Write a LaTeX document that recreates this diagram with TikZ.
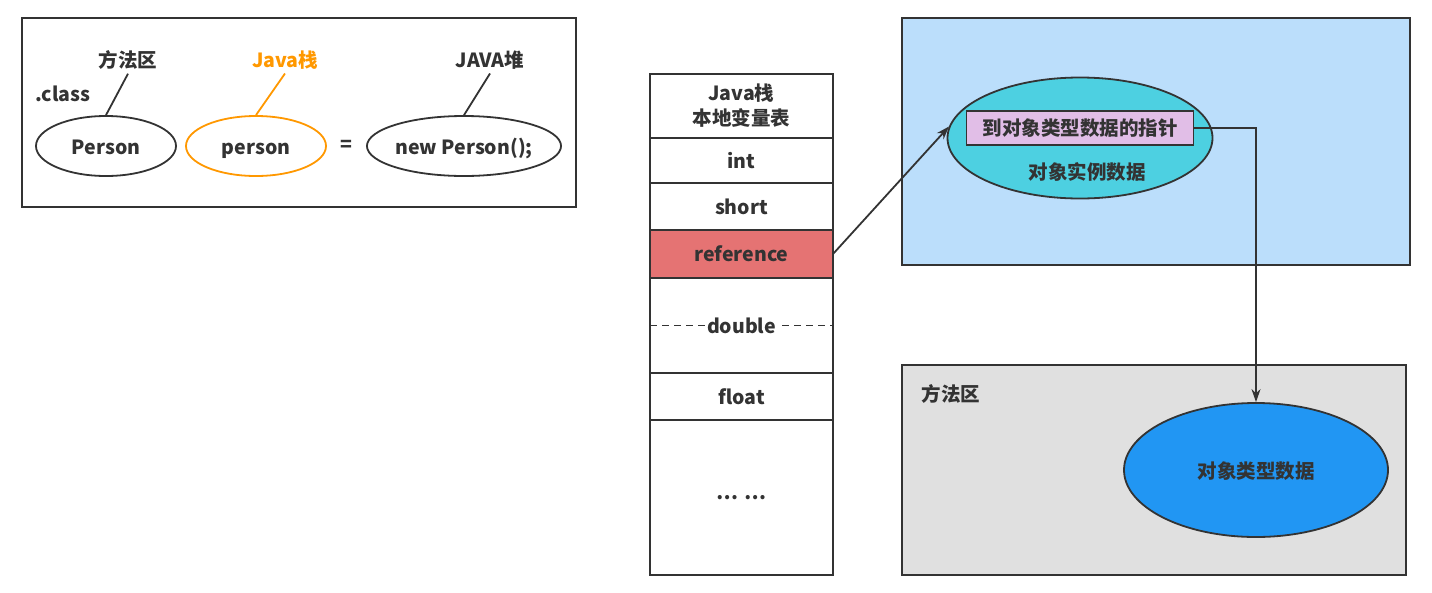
\documentclass[tikz,border=0pt]{standalone}
\usepackage{fontspec}
\setmainfont{Noto Sans CJK SC}
\usepackage{tikz}
\usetikzlibrary{shapes.geometric,arrows.meta,positioning}
\definecolor{ink}{HTML}{333333}
\definecolor{stackorange}{HTML}{FF9800}
\definecolor{refred}{HTML}{E57373}
\definecolor{heapblue}{HTML}{BBDEFB}
\definecolor{instteal}{HTML}{4DD0E1}
\definecolor{ptrpink}{HTML}{E1BEE7}
\definecolor{methgray}{HTML}{E0E0E0}
\definecolor{clsblue}{HTML}{2196F3}

\begin{document}
\begin{tikzpicture}[
  x=1pt, y=-1pt, line width=1.8pt, color=ink,
  lbl/.style={font=\fontsize{19.5}{25}\selectfont\bfseries, text=ink},
  oval/.style={ellipse, draw, minimum width=#1, minimum height=60pt,
               inner sep=0pt, text height=20pt, text depth=4pt, lbl},
  cell/.style={rectangle, draw, minimum width=183pt, minimum height=#1,
               inner sep=0pt, outer sep=0pt, lbl, align=center},
  region/.style={rectangle, draw, fill=#1, outer sep=0pt, anchor=north west},
  link/.style={-{Stealth[length=13pt,width=9pt]}, ink}
]
  \useasboundingbox (0,0) rectangle (1432,592);

  % Left box — Person person = new Person();
  \node[region=white, minimum width=554pt, minimum height=189pt] (code) at (22,18) {};
  \node[oval=140pt] (pcls) at (106,146) {Person};
  \node[oval=140pt, draw=stackorange] (pvar) at (256,146) {person};
  \node[lbl] (eq) at (346,146) {=};
  \node[oval=193pt] (pobj) at (464,146) {new Person();};
  \node[lbl] (lmeth) at (128,60) {方法区};
  \node[lbl, text=stackorange] (lstack) at (285,60) {Java栈};
  \node[lbl] (lheap) at (490,60) {JAVA堆};
  \node[lbl] (ext) at (63,94) {.class};
  \draw (lmeth.south) -- (pcls.north);
  \draw[stackorange] (lstack.south) -- (pvar.north);
  \draw (lheap.south) -- (pobj.north);

  % Stack frame — local variable table
  \node[cell=64pt, anchor=north] (hdr) at (741.5,74) {Java栈\\本地变量表};
  \node[cell=45pt, below=0pt of hdr] (cint) {int};
  \node[cell=47pt, below=0pt of cint] (cshort) {short};
  \node[cell=48pt, fill=refred, below=0pt of cshort] (cref) {reference};
  \node[cell=95pt, below=0pt of cref] (cdbl) {};
  \draw[dash pattern=on 7pt off 5pt] (cdbl.west) -- (cdbl.east);
  \node[lbl, fill=white, inner sep=1pt] (tdbl) at (cdbl) {double};
  \node[cell=47pt, below=0pt of cdbl] (cflt) {float};
  \node[cell=155pt, below=0pt of cflt] (cmore) {⋯\hspace{6pt}⋯};

  % Heap — object instance
  \node[region=heapblue, minimum width=508pt, minimum height=247pt] (heap) at (902,18) {};
  \node[oval=265pt, minimum height=121pt, fill=instteal] (inst) at (1080,138) {};
  \node[lbl, draw, fill=ptrpink, minimum width=227pt, minimum height=34pt,
        inner sep=0pt] (ptr) at (1080,128) {到对象类型数据的指针};
  \node[lbl] (tinst) at (1087,172) {对象实例数据};

  % Method area — class data
  \node[region=methgray, minimum width=504pt, minimum height=210pt] (meth) at (902,365) {};
  \node[lbl] (tmeth) at (951,394) {方法区};
  \node[oval=264pt, minimum height=134pt, fill=clsblue] (cls) at (1256,470) {对象类型数据};

  \draw[link] (cref.east) -- (inst.175);
  \draw[link] (ptr.east) -| (cls.north);
\end{tikzpicture}
\end{document}
